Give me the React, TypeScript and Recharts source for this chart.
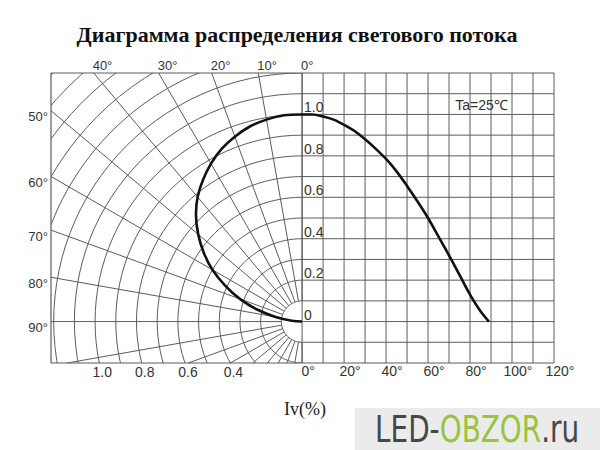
import React from "react";
import { ComposedChart, Line, XAxis, YAxis, ReferenceLine, ReferenceDot } from "recharts";

// relative luminous intensity vs. angle from the axis
const angles = [0, 5, 10, 15, 20, 25, 30, 35, 40, 45, 50, 55, 60, 65, 70, 75, 80, 85, 89];
const intensity = [1.0, 1.0, 0.99, 0.975, 0.95, 0.92, 0.88, 0.835, 0.785, 0.725, 0.655, 0.58, 0.5, 0.41, 0.32, 0.225, 0.13, 0.05, 0.0];

const degGrid = [0, 10, 20, 30, 40, 50, 60, 70, 80, 90, 100, 110, 120];
const degTicks = [0, 20, 40, 60, 80, 100, 120];
const levelGrid = [-0.1, 0, 0.1, 0.2, 0.3, 0.4, 0.5, 0.6, 0.7, 0.8, 0.9, 1.0, 1.1];
const levelLabels = [0, 0.2, 0.4, 0.6, 0.8, 1.0];
const ringRadii = [0.1, 0.2, 0.3, 0.4, 0.5, 0.6, 0.7, 0.8, 0.9, 1.0, 1.1, 1.2, 1.3, 1.4, 1.5, 1.6, 1.7];
const ringLabels = [1.0, 0.8, 0.6, 0.4];
const spokeAngles = [0, 10, 20, 30, 40, 50, 60, 70, 80, 90, 100, 110, 120, 130, 140, 150, 160, 170, 180];
const topAngleLabels = [0, 10, 20, 30, 40];
const sideAngleLabels = [50, 60, 70, 80, 90];

const PX_MIN = -1.213;
const PX_MAX = 1.217;
const Y_MIN = -0.2;
const Y_MAX = 1.2;
const DEG_MIN = (PX_MIN * 120) / PX_MAX;

const GRID = "#5c5c5c";
const INK = "#333";
const SANS = "'Liberation Sans', Arial, sans-serif";
const NARROW = "'Liberation Sans Narrow', 'DejaVu Sans Condensed', sans-serif";
const rad = (d: number) => (d * Math.PI) / 180;

const rightCurve = angles.map((a, i) => ({ a, v: intensity[i] }));
const polarCurve = angles.map((a, i) => ({
  px: -intensity[i] * Math.sin(rad(a)),
  py: intensity[i] * Math.cos(rad(a)),
}));

const arcSteps = Array.from({ length: 61 }, (_, i) => i * 3);
const rings = ringRadii.map((r) =>
  arcSteps.map((t) => ({ px: -r * Math.sin(rad(t)), py: r * Math.cos(rad(t)) }))
);

function spokeEnd(t: number) {
  const s = Math.sin(rad(t));
  const c = Math.cos(rad(t));
  let m = 10;
  if (s > 1e-9) m = Math.min(m, -PX_MIN / s);
  if (c > 1e-9) m = Math.min(m, Y_MAX / c);
  if (c < -1e-9) m = Math.min(m, Y_MIN / c);
  return m;
}

const label =
  (text: string, dx: number, dy: number, anchor: string, size = 13) =>
  (p: any) =>
    (
      <text
        x={p.cx + dx}
        y={p.cy + dy}
        textAnchor={anchor}
        dominantBaseline="central"
        fontSize={size}
        fontFamily={SANS}
        fill={INK}
      >
        {text}
      </text>
    );

export default function App() {
  return (
    <div style={{ position: "absolute", left: 0, top: 0, width: 600, height: 450, background: "#fff" }}>
      <ComposedChart width={600} height={450} margin={{ top: 73, right: 46, bottom: 87, left: 51 }}>
        <XAxis xAxisId="p" dataKey="px" type="number" domain={[PX_MIN, PX_MAX]} allowDataOverflow hide />
        <XAxis xAxisId="d" dataKey="a" type="number" domain={[DEG_MIN, 120]} allowDataOverflow hide />
        <YAxis yAxisId="y" type="number" domain={[Y_MIN, Y_MAX]} allowDataOverflow hide />

        {/* polar rings */}
        {rings.map((pts, i) => (
          <Line
            key={`ring${i}`}
            data={pts}
            dataKey="py"
            xAxisId="p"
            yAxisId="y"
            type="linear"
            stroke={GRID}
            strokeWidth={1}
            dot={false}
            activeDot={false}
            isAnimationActive={false}
          />
        ))}

        {/* polar spokes */}
        {spokeAngles.map((t) => {
          const r1 = spokeEnd(t);
          return (
            <ReferenceLine
              key={`sp${t}`}
              xAxisId="p"
              yAxisId="y"
              ifOverflow="visible"
              segment={[
                { x: -0.1 * Math.sin(rad(t)), y: 0.1 * Math.cos(rad(t)) },
                { x: -r1 * Math.sin(rad(t)), y: r1 * Math.cos(rad(t)) },
              ]}
              stroke={GRID}
              strokeWidth={1}
            />
          );
        })}

        {/* cartesian grid on the right */}
        {degGrid.map((d) => (
          <ReferenceLine key={`v${d}`} xAxisId="d" yAxisId="y" x={d} ifOverflow="visible" stroke={GRID} strokeWidth={1} />
        ))}
        {levelGrid.map((l) => (
          <ReferenceLine
            key={`h${l}`}
            xAxisId="d"
            yAxisId="y"
            ifOverflow="visible"
            segment={[{ x: 0, y: l }, { x: 120, y: l }]}
            stroke={GRID}
            strokeWidth={1}
          />
        ))}

        {/* frame */}
        <ReferenceLine xAxisId="p" yAxisId="y" y={Y_MAX} ifOverflow="visible" stroke={GRID} strokeWidth={1.2} />
        <ReferenceLine xAxisId="p" yAxisId="y" y={Y_MIN} ifOverflow="visible" stroke={GRID} strokeWidth={1.2} />
        <ReferenceLine xAxisId="p" yAxisId="y" x={PX_MIN} ifOverflow="visible" stroke={GRID} strokeWidth={1.2} />

        {/* curves */}
        <Line
          data={polarCurve}
          dataKey="py"
          xAxisId="p"
          yAxisId="y"
          type="natural"
          stroke="#111"
          strokeWidth={2.6}
          dot={false}
          activeDot={false}
          isAnimationActive={false}
        />
        <Line
          data={rightCurve}
          dataKey="v"
          xAxisId="d"
          yAxisId="y"
          type="monotone"
          stroke="#111"
          strokeWidth={2.6}
          dot={false}
          activeDot={false}
          isAnimationActive={false}
        />

        {/* labels */}
        {topAngleLabels.map((t) => (
          <ReferenceDot
            key={`ta${t}`}
            xAxisId="p"
            yAxisId="y"
            x={-Y_MAX * Math.tan(rad(t))}
            y={Y_MAX}
            ifOverflow="visible"
            shape={label(`${t}°`, -1, -8, "start")}
          />
        ))}
        {sideAngleLabels.map((t) => (
          <ReferenceDot
            key={`sa${t}`}
            xAxisId="p"
            yAxisId="y"
            x={PX_MIN}
            y={-PX_MIN / Math.tan(rad(t))}
            ifOverflow="visible"
            shape={label(`${t}°`, -3, 6, "end")}
          />
        ))}
        {ringLabels.map((r) => (
          <ReferenceDot
            key={`rl${r}`}
            xAxisId="p"
            yAxisId="y"
            x={-Math.sqrt(r * r - Y_MIN * Y_MIN)}
            y={Y_MIN}
            ifOverflow="visible"
            shape={label(r.toFixed(1), 3, 9, "middle", 14)}
          />
        ))}
        {levelLabels.map((l) => (
          <ReferenceDot
            key={`ll${l}`}
            xAxisId="d"
            yAxisId="y"
            x={0}
            y={l}
            ifOverflow="visible"
            shape={label(l === 0 ? "0" : l.toFixed(1), 2, -7, "start", 14)}
          />
        ))}
        {degTicks.map((d) => (
          <ReferenceDot
            key={`dt${d}`}
            xAxisId="d"
            yAxisId="y"
            x={d}
            y={Y_MIN}
            ifOverflow="visible"
            shape={label(`${d}°`, 6, 8, "middle", 14)}
          />
        ))}
        <ReferenceDot
          xAxisId="d"
          yAxisId="y"
          x={73}
          y={1.045}
          ifOverflow="visible"
          shape={label("Ta=25℃", 0, 0, "start", 14)}
        />
      </ComposedChart>

      <svg width={600} height={450} style={{ position: "absolute", left: 0, top: 0, pointerEvents: "none" }}>
        <text
          x={297}
          y={42}
          textAnchor="middle"
          fontFamily="'Liberation Serif', 'Times New Roman', serif"
          fontWeight="bold"
          fontSize={22}
          fill="#111"
        >
          Диаграмма распределения светового потока
        </text>
        <text
          x={305}
          y={415}
          textAnchor="middle"
          fontFamily="'Liberation Serif', 'Times New Roman', serif"
          fontSize={18}
          fill="#222"
        >
          Iv(%)
        </text>
        <rect x={355} y={408} width={245} height={42} fill="#ebebeb" />
        <text transform="translate(375,442) scale(1,1.2)" x={0} y={0} fontFamily={NARROW} fontSize={31} fill="#474747">
          LED-<tspan fill="#9ac43c">OBZOR</tspan>.ru
        </text>
      </svg>
    </div>
  );
}
